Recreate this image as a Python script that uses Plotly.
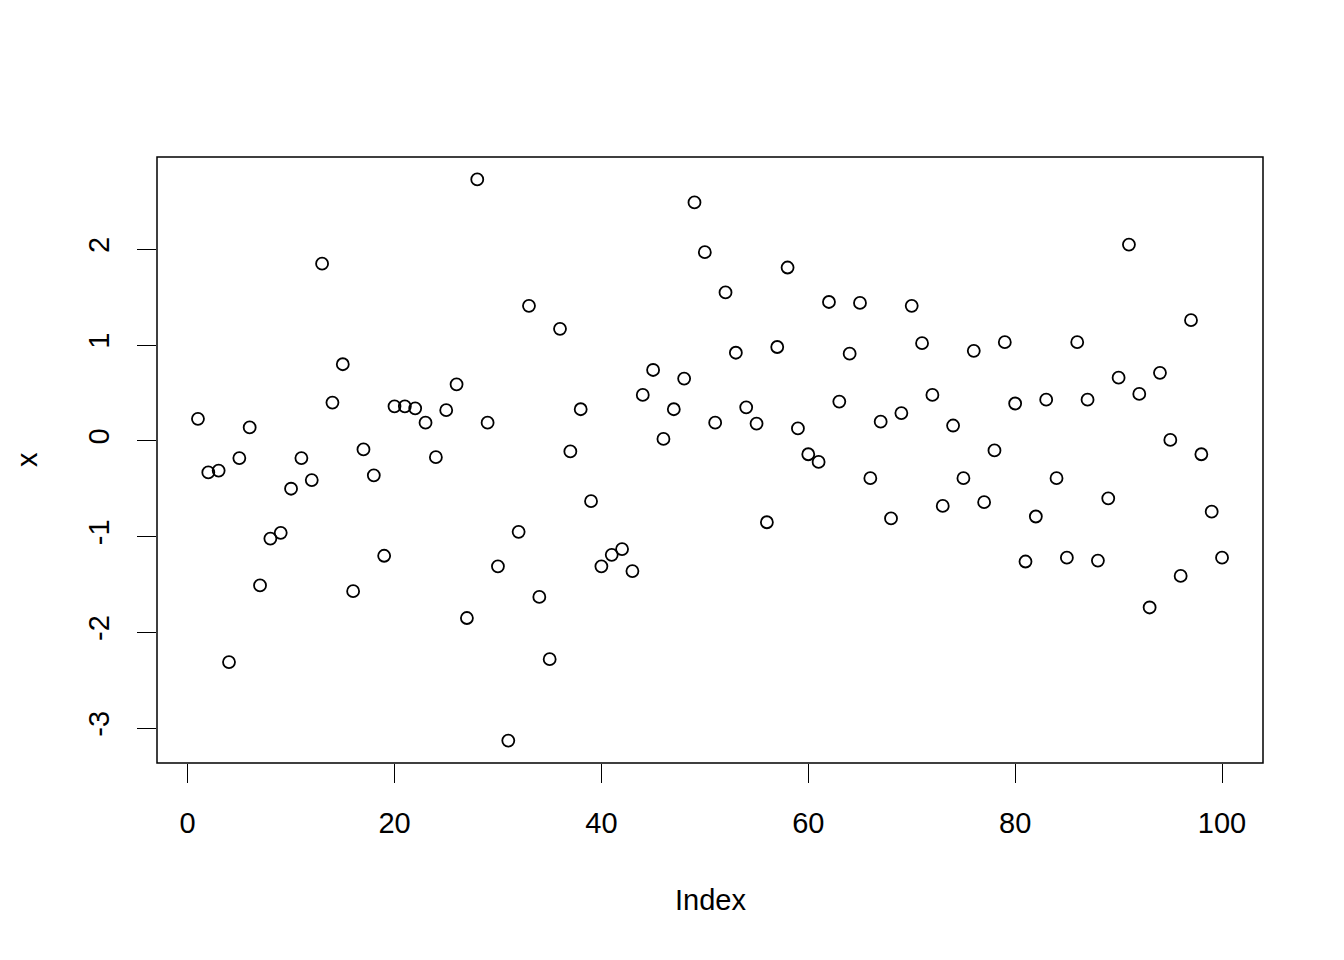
import plotly.graph_objects as go

index = list(range(1, 101))
x_vals = [
    0.23, -0.33, -0.31, -2.31, -0.18, 0.14, -1.51, -1.02, -0.96, -0.50,
    -0.18, -0.41, 1.85, 0.40, 0.80, -1.57, -0.09, -0.36, -1.20, 0.36,
    0.36, 0.34, 0.19, -0.17, 0.32, 0.59, -1.85, 2.73, 0.19, -1.31,
    -3.13, -0.95, 1.41, -1.63, -2.28, 1.17, -0.11, 0.33, -0.63, -1.31,
    -1.19, -1.13, -1.36, 0.48, 0.74, 0.02, 0.33, 0.65, 2.49, 1.97,
    0.19, 1.55, 0.92, 0.35, 0.18, -0.85, 0.98, 1.81, 0.13, -0.14,
    -0.22, 1.45, 0.41, 0.91, 1.44, -0.39, 0.20, -0.81, 0.29, 1.41,
    1.02, 0.48, -0.68, 0.16, -0.39, 0.94, -0.64, -0.10, 1.03, 0.39,
    -1.26, -0.79, 0.43, -0.39, -1.22, 1.03, 0.43, -1.25, -0.60, 0.66,
    2.05, 0.49, -1.74, 0.71, 0.01, -1.41, 1.26, -0.14, -0.74, -1.22,
]
x_ticks = [0, 20, 40, 60, 80, 100]
y_ticks = [-3, -2, -1, 0, 1, 2]

FONT = "Liberation Sans, Arial, sans-serif"

fig = go.Figure()
fig.add_trace(go.Scatter(
    x=index, y=x_vals, mode="markers",
    marker=dict(symbol="circle-open", size=12, color="black", line=dict(width=1.8, color="black")),
    showlegend=False,
))

fig.update_layout(
    width=1344, height=960,
    margin=dict(l=149, r=89, t=149, b=205),
    paper_bgcolor="white", plot_bgcolor="white",
    font=dict(family=FONT, size=29, color="black"),
    xaxis=dict(
        range=[-2.96, 103.96], tickvals=x_ticks, ticktext=[str(v) for v in x_ticks],
        ticks="outside", ticklen=19, tickwidth=1.3, tickcolor="black",
        showgrid=False, zeroline=False, showline=False, ticklabelstandoff=15,
        tickfont=dict(family=FONT, size=29, color="black"),
    ),
    yaxis=dict(
        range=[-3.364, 2.964], tickvals=y_ticks, ticktext=[str(v) for v in y_ticks],
        ticks="outside", ticklen=19, tickwidth=1.3, tickcolor="black",
        showgrid=False, zeroline=False, showline=False, tickangle=-90, ticklabelstandoff=16,
        tickfont=dict(family=FONT, size=29, color="black"),
    ),
    shapes=[dict(type="rect", xref="paper", yref="paper", x0=0, y0=0, x1=1, y1=1,
                 line=dict(color="black", width=1.5), fillcolor="rgba(0,0,0,0)")],
    annotations=[
        dict(text="Index", xref="paper", yref="paper", x=0.5, y=-(900 - 763) / 606,
             showarrow=False, xanchor="center", yanchor="middle",
             font=dict(family=FONT, size=29, color="black")),
        dict(text="x", xref="paper", yref="paper", x=-(157 - 27) / 1106, y=0.5,
             showarrow=False, xanchor="center", yanchor="middle", textangle=-90,
             font=dict(family=FONT, size=29, color="black")),
    ],
)

fig.write_html("out.html")
